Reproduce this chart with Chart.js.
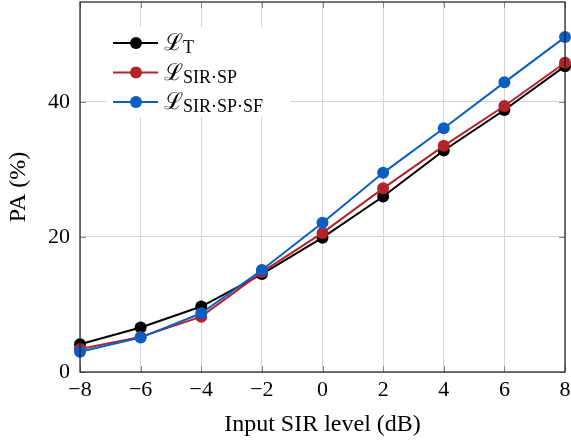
<!DOCTYPE html>
<html>
<head>
<meta charset="utf-8">
<script src="https://cdn.jsdelivr.net/npm/chart.js@4.4.1/dist/chart.umd.min.js"></script>
<style>
  html, body { margin: 0; padding: 0; background: #fff; }
  #wrap { width: 571px; height: 443px; }
</style>
</head>
<body>
<div id="wrap"><canvas id="paChart" width="571" height="443"></canvas></div>
<script>
// input SIR level (dB)
const sirLevels = [-8, -6, -4, -2, 0, 2, 4, 6, 8];
// PA (%) per loss
const paT = [4.1, 6.6, 9.7, 14.5, 19.9, 26.0, 32.8, 38.8, 45.3];
const paSirSp = [3.4, 5.2, 8.2, 14.8, 20.6, 27.2, 33.5, 39.4, 45.8];
const paSirSpSf = [3.0, 5.1, 8.7, 15.1, 22.1, 29.5, 36.1, 42.9, 49.6];
const seriesSubs = ['T', 'SIR·SP', 'SIR·SP·SF'];
const xTicks = [-8, -6, -4, -2, 0, 2, 4, 6, 8];
const yTicks = [0, 20, 40];

const serif = '"Liberation Serif", "DejaVu Serif", serif';
const colors = ['#000000', '#b3232a', '#0a5ec2'];

function toPoints(vals) {
    return sirLevels.map((x, i) => ({ x: x, y: vals[i] }));
}

// legend drawn by hand so the subscripts come out right
const mathLegend = {
    id: 'mathLegend',
    afterDatasetsDraw(chart) {
        const ctx = chart.ctx;
        ctx.save();
        ctx.fillStyle = '#fff';
        ctx.fillRect(107, 27, 183, 90);
        chart.data.datasets.forEach((ds, i) => {
            const y = 43 + i * 29.5;
            ctx.strokeStyle = ds.borderColor;
            ctx.lineWidth = 2;
            ctx.beginPath();
            ctx.moveTo(113, y);
            ctx.lineTo(158, y);
            ctx.stroke();
            ctx.fillStyle = ds.backgroundColor;
            ctx.beginPath();
            ctx.arc(136, y, 6, 0, Math.PI * 2);
            ctx.fill();
            ctx.fillStyle = '#000';
            ctx.textBaseline = 'alphabetic';
            ctx.textAlign = 'left';
            ctx.font = '23px ' + serif;
            ctx.fillText('ℒ', 164, y + 7);
            const w = ctx.measureText('ℒ').width;
            ctx.font = '18px ' + serif;
            ctx.fillText(seriesSubs[i], 164 + w, y + 10);
        });
        ctx.restore();
    },
    afterDraw(chart) {
        const ctx = chart.ctx;
        const a = chart.chartArea;
        const xs = chart.scales.x, ys = chart.scales.y;
        ctx.save();
        // inward tick marks
        ctx.strokeStyle = '#8a8a8a';
        ctx.lineWidth = 1;
        ctx.beginPath();
        xTicks.forEach(v => {
            const px = Math.round(xs.getPixelForValue(v)) + 0.5;
            ctx.moveTo(px, a.bottom); ctx.lineTo(px, a.bottom - 6);
            ctx.moveTo(px, a.top); ctx.lineTo(px, a.top + 6);
        });
        yTicks.forEach(v => {
            const py = Math.round(ys.getPixelForValue(v)) + 0.5;
            ctx.moveTo(a.left, py); ctx.lineTo(a.left + 6, py);
            ctx.moveTo(a.right, py); ctx.lineTo(a.right - 6, py);
        });
        ctx.stroke();
        ctx.strokeStyle = '#1a1a1a';
        ctx.lineWidth = 1.2;
        ctx.strokeRect(a.left, a.top, a.right - a.left, a.bottom - a.top);
        ctx.restore();
    }
};

const ctx = document.getElementById('paChart').getContext('2d');
const chart = new Chart(ctx, {
    type: 'line',
    data: {
        datasets: [paT, paSirSp, paSirSpSf].map((vals, i) => ({
            label: 'ℒ' + seriesSubs[i],
            data: toPoints(vals),
            borderColor: colors[i],
            backgroundColor: colors[i],
            pointBackgroundColor: colors[i],
            pointBorderColor: colors[i],
            pointRadius: 6,
            pointBorderWidth: 0,
            borderWidth: 2,
            tension: 0,
            fill: false,
            clip: false,
            order: 2 - i
        }))
    },
    options: {
        responsive: false,
        animation: false,
        events: [],
        layout: { autoPadding: false, padding: { top: 2, right: 6, left: 4, bottom: 4 } },
        plugins: {
            legend: { display: false },
            tooltip: { enabled: false }
        },
        scales: {
            x: {
                type: 'linear',
                min: -8,
                max: 8,
                afterBuildTicks: s => { s.ticks = xTicks.map(v => ({ value: v })); },
                afterFit: s => { s.height = 67; s.paddingLeft = 0; s.paddingRight = 0; },
                grid: { color: '#d4d4d4', lineWidth: 1, drawTicks: false },
                border: { display: false },
                ticks: {
                    padding: 5,
                    color: '#000',
                    font: { family: serif, size: 22, lineHeight: 1.2 },
                    callback: v => (v < 0 ? '\u2212' + Math.abs(v) : String(v))
                },
                title: {
                    display: true,
                    text: 'Input SIR level (dB)',
                    color: '#000',
                    padding: 0,
                    font: { family: serif, size: 24, lineHeight: 1.2 }
                }
            },
            y: {
                min: 0,
                max: 54.8,
                afterBuildTicks: s => { s.ticks = yTicks.map(v => ({ value: v })); },
                afterFit: s => { s.width = 76; s.paddingTop = 0; s.paddingBottom = 0; },
                grid: { color: '#d4d4d4', lineWidth: 1, drawTicks: false },
                border: { display: false },
                ticks: {
                    padding: 10,
                    color: '#000',
                    font: { family: serif, size: 22, lineHeight: 1.2 }
                },
                title: {
                    display: true,
                    text: 'PA (%)',
                    color: '#000',
                    padding: 0,
                    font: { family: serif, size: 24, lineHeight: 1.2 }
                }
            }
        }
    },
    plugins: [mathLegend]
});
</script>
</body>
</html>
